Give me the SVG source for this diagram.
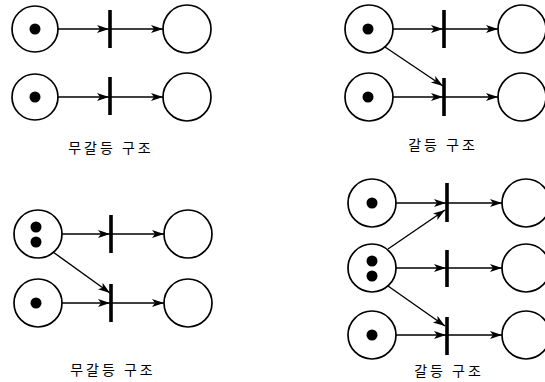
<svg xmlns="http://www.w3.org/2000/svg" width="545" height="382" viewBox="0 0 545 382">
<defs>
<style>
.place{fill:#fff;stroke:#000;stroke-width:1.7}
.token{fill:#000}
.bar{stroke:#000;stroke-width:3.6}
.arc{stroke:#000;stroke-width:1.4;fill:none;marker-end:url(#ah)}
.lbl{font-family:"Noto Sans CJK KR","Noto Sans",sans-serif;font-size:14px;letter-spacing:3px;text-anchor:middle;fill:#000}
</style>
<marker id="ah" markerUnits="userSpaceOnUse" markerWidth="14" markerHeight="10" refX="12" refY="4" orient="auto">
<path d="M0,0 L12,4 L0,8 L3,4 z" fill="#000"/>
</marker>
</defs>
<rect width="545" height="382" fill="#fff"/>

<g id="connectors">
<!-- panel A -->
<line class="arc" x1="58" y1="29" x2="109" y2="29"/>
<line class="arc" x1="111" y1="29" x2="163" y2="29"/>
<line class="arc" x1="58" y1="97" x2="109" y2="97"/>
<line class="arc" x1="111" y1="97" x2="163" y2="97"/>
<!-- panel B -->
<line class="arc" x1="393" y1="29" x2="443" y2="29"/>
<line class="arc" x1="445" y1="29" x2="498" y2="29"/>
<line class="arc" x1="393" y1="97" x2="443" y2="97"/>
<line class="arc" x1="445" y1="97" x2="498" y2="97"/>
<line class="arc" x1="385" y1="47" x2="443" y2="86"/>
<!-- panel C -->
<line class="arc" x1="61" y1="234" x2="110" y2="234"/>
<line class="arc" x1="112" y1="234" x2="164" y2="234"/>
<line class="arc" x1="61" y1="303" x2="110" y2="303"/>
<line class="arc" x1="112" y1="303" x2="164" y2="303"/>
<line class="arc" x1="53" y1="252" x2="110" y2="293"/>
<!-- panel D -->
<line class="arc" x1="396" y1="203" x2="446" y2="203"/>
<line class="arc" x1="448" y1="203" x2="502" y2="203"/>
<line class="arc" x1="396" y1="268" x2="446" y2="268"/>
<line class="arc" x1="448" y1="268" x2="502" y2="268"/>
<line class="arc" x1="396" y1="335" x2="446" y2="335"/>
<line class="arc" x1="448" y1="335" x2="502" y2="335"/>
<line class="arc" x1="388" y1="249" x2="445" y2="210"/>
<line class="arc" x1="388" y1="286" x2="445" y2="326"/>
</g>

<!-- panel A nodes -->
<g id="A_p1"><circle class="place" cx="35" cy="29" r="23"/><circle class="token" cx="35" cy="29" r="5.5"/></g>
<g id="A_p2"><circle class="place" cx="35" cy="97" r="23"/><circle class="token" cx="35" cy="97" r="5.5"/></g>
<g id="A_t1"><line class="bar" x1="110" y1="10" x2="110" y2="48"/></g>
<g id="A_t2"><line class="bar" x1="110" y1="77" x2="110" y2="115"/></g>
<g id="A_o1"><circle class="place" cx="187" cy="29" r="24"/></g>
<g id="A_o2"><circle class="place" cx="187" cy="97" r="24"/></g>
<text class="lbl" x="111" y="153">무갈등 구조</text>

<!-- panel B nodes -->
<g id="B_p1"><circle class="place" cx="369" cy="29" r="24"/><circle class="token" cx="368" cy="29" r="5.5"/></g>
<g id="B_p2"><circle class="place" cx="369" cy="97" r="24"/><circle class="token" cx="368" cy="97" r="5.5"/></g>
<g id="B_t1"><line class="bar" x1="444" y1="10" x2="444" y2="48"/></g>
<g id="B_t2"><line class="bar" x1="444" y1="78" x2="444" y2="116"/></g>
<g id="B_o1"><circle class="place" cx="522" cy="29" r="24"/></g>
<g id="B_o2"><circle class="place" cx="522" cy="97" r="24"/></g>
<text class="lbl" x="443" y="150">갈등 구조</text>

<!-- panel C nodes -->
<g id="C_p1"><circle class="place" cx="38" cy="234" r="24"/><circle class="token" cx="36" cy="227" r="5.5"/><circle class="token" cx="36" cy="242" r="5.5"/></g>
<g id="C_p2"><circle class="place" cx="38" cy="303" r="24"/><circle class="token" cx="36" cy="303" r="5.5"/></g>
<g id="C_t1"><line class="bar" x1="111" y1="215" x2="111" y2="253"/></g>
<g id="C_t2"><line class="bar" x1="111" y1="284" x2="111" y2="322"/></g>
<g id="C_o1"><circle class="place" cx="188" cy="234" r="24"/></g>
<g id="C_o2"><circle class="place" cx="188" cy="303" r="24"/></g>
<text class="lbl" x="113" y="375">무갈등 구조</text>

<!-- panel D nodes -->
<g id="D_p1"><circle class="place" cx="372" cy="203" r="24"/><circle class="token" cx="372" cy="203" r="5.5"/></g>
<g id="D_p2"><circle class="place" cx="372" cy="268" r="24"/><circle class="token" cx="372" cy="261" r="5.5"/><circle class="token" cx="372" cy="276" r="5.5"/></g>
<g id="D_p3"><circle class="place" cx="372" cy="335" r="24"/><circle class="token" cx="372" cy="335" r="5.5"/></g>
<g id="D_t1"><line class="bar" x1="447" y1="183" x2="447" y2="222"/></g>
<g id="D_t2"><line class="bar" x1="447" y1="250" x2="447" y2="287"/></g>
<g id="D_t3"><line class="bar" x1="447" y1="317" x2="447" y2="355"/></g>
<g id="D_o1"><circle class="place" cx="526" cy="203" r="24"/></g>
<g id="D_o2"><circle class="place" cx="526" cy="268" r="24"/></g>
<g id="D_o3"><circle class="place" cx="526" cy="335" r="24"/></g>
<text class="lbl" x="449" y="376">갈등 구조</text>
</svg>
